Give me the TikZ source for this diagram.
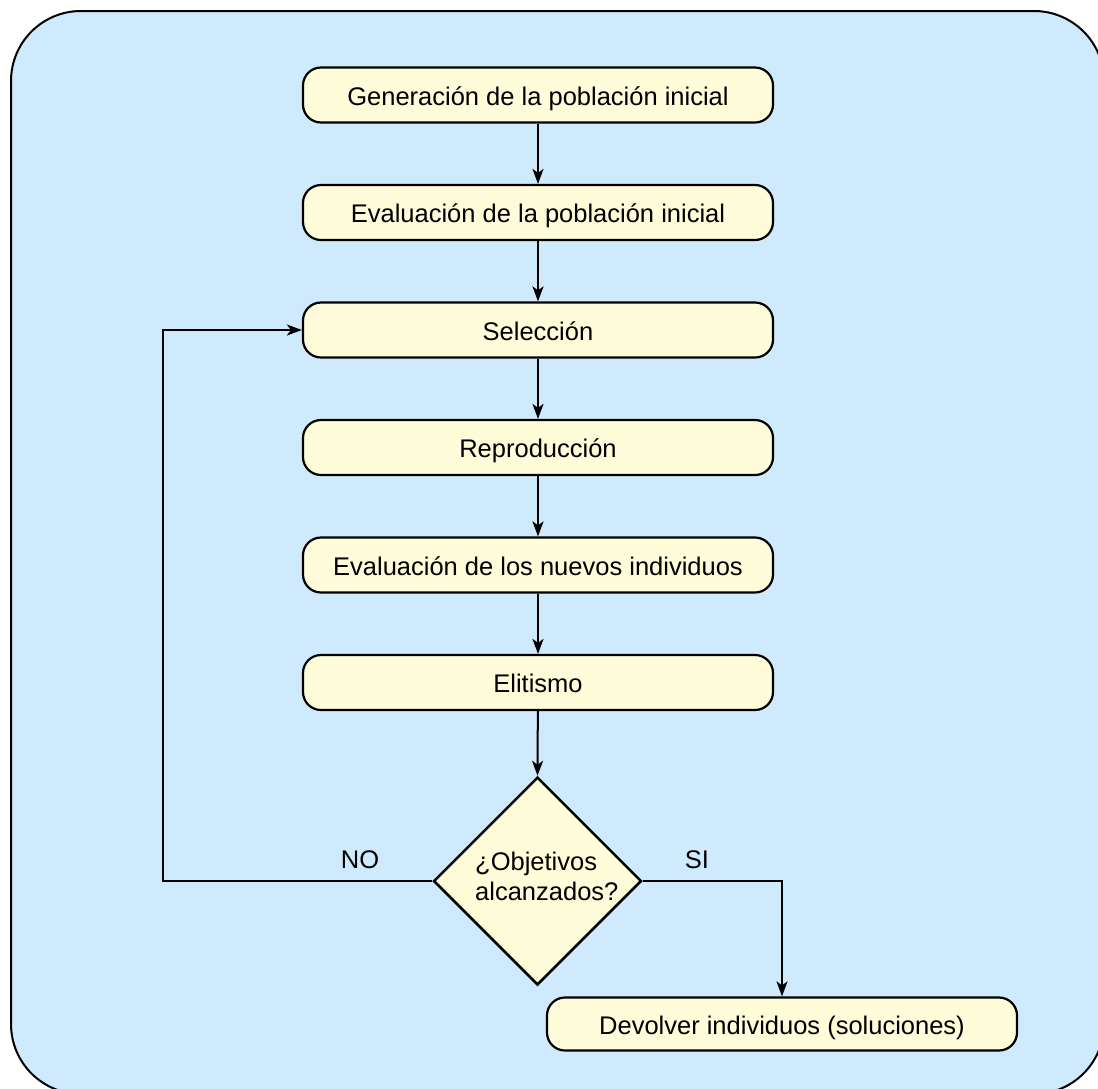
\documentclass[tikz,border=0pt]{standalone}
\usepackage{fontspec}
\setmainfont{Liberation Sans}
\usetikzlibrary{shapes.geometric,arrows.meta}
\definecolor{panel}{HTML}{D0EAFD}
\definecolor{boxfill}{HTML}{FFFCDA}
\begin{document}
\begin{tikzpicture}[x=1pt,y=-1pt,
  every node/.style={font=\fontsize{25.5}{30}\selectfont},
  stepbox/.style={draw=black, line width=2.2pt, fill=boxfill, rounded corners=18pt,
    minimum width=470pt, minimum height=55pt, inner sep=0pt,
    text height=20pt, text depth=0pt},
  decision/.style={draw=black, line width=2.5pt, fill=boxfill, diamond, aspect=1,
    minimum width=208pt, minimum height=208pt, inner sep=0pt},
  flow/.style={line width=2pt, -{Stealth[length=15pt,width=11pt,inset=4pt]}},
  tag/.style={inner sep=0pt}]
  \useasboundingbox (0,0) rectangle (1098,1088);
  % panel behind the flowchart
  \begin{scope}
    \clip (0,0) rectangle (1098,1088);
    \draw[line width=2pt, fill=panel, rounded corners=70pt] (11,11) rectangle (1104,1094);
  \end{scope}

  \node[stepbox] (gen)  at (538,95)    {Generación de la población inicial};
  \node[stepbox] (eval) at (538,212.5) {Evaluación de la población inicial};
  \node[stepbox] (sel)  at (538,330)   {Selección};
  \node[stepbox] (rep)  at (538,447.5) {Reproducción};
  \node[stepbox] (evn)  at (538,565)   {Evaluación de los nuevos individuos};
  \node[stepbox] (eli)  at (538,682.5) {Elitismo};
  \node[decision] (obj) at (537.5,881) {};
  % two-line question, the base anchor sits on the second line
  \node[tag, align=left, anchor=base west] (objtxt) at (475,900) {¿Objetivos\\alcanzados?};
  \node[stepbox, minimum height=53pt] (dev) at (782,1024) {Devolver individuos (soluciones)};

  \coordinate (loop) at (163,881);
  \coordinate (loopup) at (163,330);
  \coordinate (sicorner) at (dev.north |- obj.east);

  \draw[flow] (gen) -- (eval);
  \draw[flow] (eval) -- (sel);
  \draw[flow] (sel) -- (rep);
  \draw[flow] (rep) -- (evn);
  \draw[flow] (evn) -- (eli);
  \draw[flow] (eli) -- (obj.north);
  \draw[flow] (obj.west) -- (loop) -- (loopup) -- (sel.west);
  \draw[flow] (obj.east) -- (sicorner) -- (dev.north);

  \node[tag, anchor=base] (no) at (360,868) {NO};
  \node[tag, anchor=base] (si) at (697,868) {SI};
\end{tikzpicture}
\end{document}
